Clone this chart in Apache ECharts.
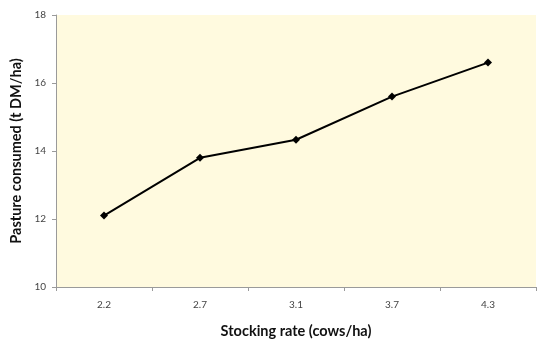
<!DOCTYPE html>
<html>
<head>
<meta charset="utf-8">
<script src="https://cdn.jsdelivr.net/npm/echarts@6/dist/echarts.min.js"></script>
<style>
  html, body { margin: 0; padding: 0; background: #fff; }
  #chart { width: 550px; height: 345px; }
</style>
</head>
<body>
<div id="chart"></div>
<script>
// Stocking rate categories and pasture consumed per hectare
const stockingRates = ['2.2', '2.7', '3.1', '3.7', '4.3'];
const pastureConsumed = [12.1, 13.8, 14.33, 15.6, 16.6];
const yTicks = { min: 10, max: 18, interval: 2 };

const chart = echarts.init(document.getElementById('chart'), null, { renderer: 'canvas' });
const font = 'Lato, "Open Sans", sans-serif';

chart.setOption({
  animation: false,
  backgroundColor: '#ffffff',
  grid: {
    left: 56, right: 14, top: 15, bottom: 58,
    show: true, backgroundColor: '#FFFADF', borderWidth: 0
  },
  xAxis: {
    type: 'category',
    data: stockingRates,
    boundaryGap: true,
    name: 'Stocking rate (cows/ha)',
    nameLocation: 'middle',
    nameGap: 37,
    nameTextStyle: { fontFamily: font, fontSize: 14.5, fontWeight: 'bold', color: '#111' },
    axisLine: { lineStyle: { color: '#9a9a9a', width: 1 } },
    axisTick: { show: true, inside: false, length: 4, alignWithLabel: false, lineStyle: { color: '#9a9a9a' } },
    axisLabel: { fontFamily: font, fontSize: 10, color: '#444', margin: 13 },
    splitLine: { show: false }
  },
  yAxis: {
    type: 'value',
    min: yTicks.min, max: yTicks.max, interval: yTicks.interval,
    name: 'Pasture consumed (t DM/ha)',
    nameLocation: 'middle',
    nameGap: 30,
    nameRotate: 90,
    nameTextStyle: { fontFamily: font, fontSize: 14.5, fontWeight: 'bold', color: '#111' },
    axisLine: { show: true, lineStyle: { color: '#9a9a9a', width: 1 } },
    axisTick: { show: true, inside: false, length: 4, lineStyle: { color: '#9a9a9a' } },
    axisLabel: { fontFamily: font, fontSize: 10, color: '#444', margin: 10 },
    splitLine: { show: false }
  },
  series: [{
    type: 'line',
    data: pastureConsumed,
    symbol: 'diamond',
    symbolSize: 8,
    lineStyle: { color: '#000', width: 2 },
    itemStyle: { color: '#000' }
  }]
});
</script>
</body>
</html>
